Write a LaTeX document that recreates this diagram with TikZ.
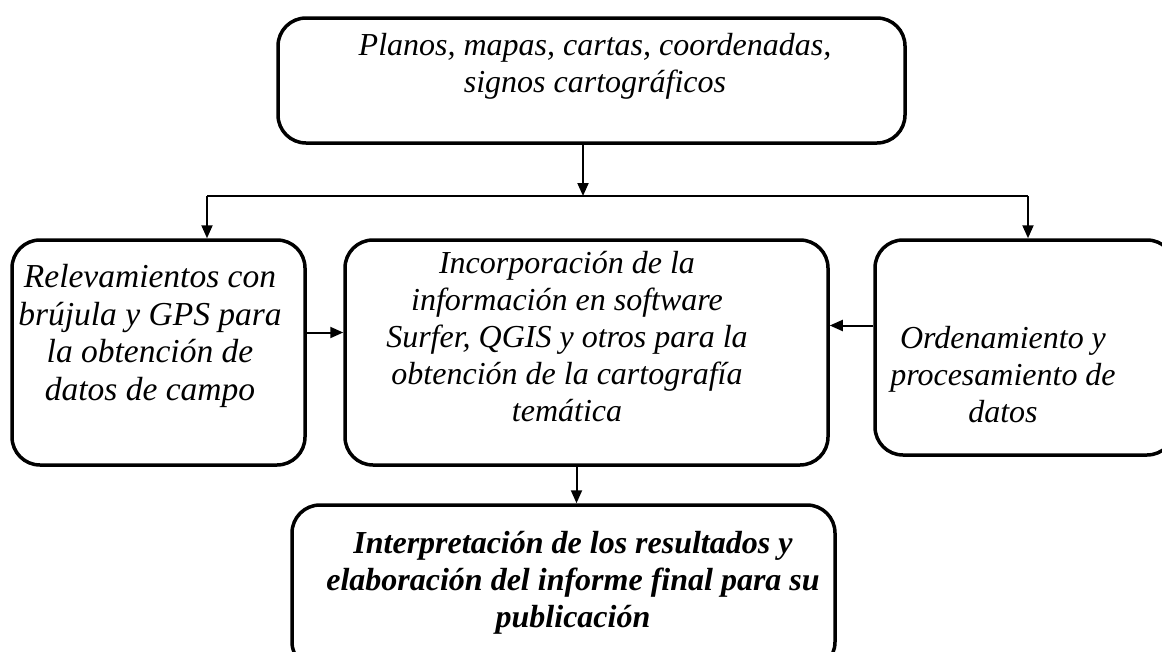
\documentclass[tikz,border=0pt]{standalone}
\usepackage{fontspec}
\setmainfont{Liberation Serif}
\usetikzlibrary{arrows.meta}
\begin{document}
\begin{tikzpicture}[x=1pt,y=1pt,
  box/.style={draw, line width=3.5pt, rounded corners=28pt, inner sep=0pt},
  txt/.style={align=center, font=\fontsize{32}{37}\selectfont\itshape, inner sep=0pt},
  ltxt/.style={align=center, font=\fontsize{33.5}{37.5}\selectfont\itshape, inner sep=0pt},
  btxt/.style={align=center, font=\fontsize{32}{37}\selectfont\bfseries\itshape, inner sep=0pt},
  arr/.style={line width=2pt, -{Triangle[length=13pt,width=11pt]}},
  ln/.style={line width=2pt}]
\useasboundingbox (0,0) rectangle (1162,-651);
% boxes
\node[box, minimum width=627pt, minimum height=125pt] (top) at (591.5,-80.5) {};
\node[box, minimum width=293pt, minimum height=225pt] (left) at (158.5,-352.5) {};
\node[box, minimum width=483pt, minimum height=225pt] (mid) at (586.5,-352.5) {};
\node[box, minimum width=300pt, minimum height=215pt] (right) at (1025,-347.5) {};
\node[box, minimum width=543pt, minimum height=165pt] (bot) at (563.5,-587.5) {};
% texts
\node[txt] (toptxt) at (595,-66) {Planos, mapas, cartas, coordenadas,\\ signos cartográficos};
\node[ltxt] (lefttxt) at (150,-336) {Relevamientos con\\ brújula y GPS para\\ la obtención de\\ datos de campo};
\node[txt] (midtxt) at (567,-337) {Incorporación de la\\ información en software\\ Surfer, QGIS y otros para la\\ obtención de la cartografía\\ temática};
\node[txt] (righttxt) at (1003,-375) {Ordenamiento y\\ procesamiento de\\ datos};
\node[btxt] (bottxt) at (573,-583) {Interpretación de los resultados y\\ elaboración del informe final para su\\ publicación};
% connectors
\coordinate (split) at (583,-196);
\coordinate (splitL) at (207,-196);
\coordinate (splitR) at (1028,-196);
\draw[arr] (top.south -| split) -- (split);
\draw[ln] (splitL) -- (splitR);
\draw[arr] (splitL) -- (splitL |- left.north);
\draw[arr] (splitR) -- (splitR |- right.north);
\draw[arr] ([yshift=20pt]left.east) -- ([yshift=20pt]mid.west);
\draw[arr] ([yshift=22pt]right.west) -- ([yshift=22pt]right.west -| mid.east);
\draw[arr] ([xshift=-10pt]mid.south) -- ([xshift=-10pt]mid.south |- bot.north);
\end{tikzpicture}
\end{document}
